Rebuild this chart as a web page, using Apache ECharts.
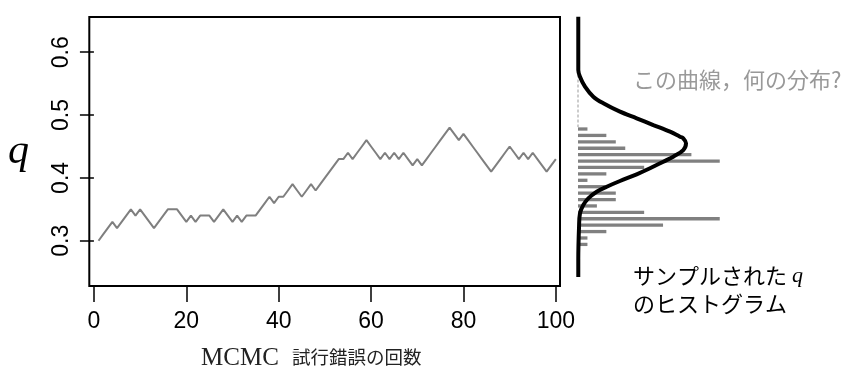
<!DOCTYPE html>
<html>
<head>
<meta charset="utf-8">
<script src="https://cdn.jsdelivr.net/npm/echarts@6/dist/echarts.min.js"></script>
<style>html,body{margin:0;padding:0;background:#fff}#c{width:851px;height:371px}</style>
</head>
<body>
<div id="c"></div>
<script>
// MCMC trace: q value at each iteration 1..100
const qSamples = [
  0.30,0.31,0.32,0.33,0.32,0.33,0.34,0.35,0.34,0.35,
  0.34,0.33,0.32,0.33,0.34,0.35,0.35,0.35,0.34,0.33,
  0.34,0.33,0.34,0.34,0.34,0.33,0.34,0.35,0.34,0.33,
  0.34,0.33,0.34,0.34,0.34,0.35,0.36,0.37,0.36,0.37,
  0.37,0.38,0.39,0.38,0.37,0.38,0.39,0.38,0.39,0.40,
  0.41,0.42,0.43,0.43,0.44,0.43,0.44,0.45,0.46,0.45,
  0.44,0.43,0.44,0.43,0.44,0.43,0.44,0.43,0.42,0.43,
  0.42,0.43,0.44,0.45,0.46,0.47,0.48,0.47,0.46,0.47,
  0.46,0.45,0.44,0.43,0.42,0.41,0.42,0.43,0.44,0.45,
  0.44,0.43,0.44,0.43,0.44,0.43,0.42,0.41,0.42,0.43
];
const xTicks = [0, 20, 40, 60, 80, 100];
const yTicks = [0.3, 0.4, 0.5, 0.6];

// histogram of sampled q (bin centre, count)
const histBins   = [0.30,0.31,0.32,0.33,0.34,0.35,0.36,0.37,0.38,0.39,0.40,0.41,0.42,0.43,0.44,0.45,0.46,0.47,0.48];
const histCounts = [1,   1,   3,   9,   15,  7,   2,   4,   4,   3,   1,   3,   7,   15,  12,  5,   4,   3,   1];

// curve (q, density in histogram-count units)
const curveQ       = [0.655,0.572,0.5616,0.546,0.5304,0.5201,0.507,0.4967,0.4862,0.4758,0.468,0.4655,0.4577,0.4472,0.4368,0.429,0.4187,0.4093,0.3989,0.39,0.3822,0.3719,0.3614,0.3485,0.3276,0.2767,0.2491];
const curveDensity = [0.03, 0.03, 0.21,  0.74, 1.62,  2.68,  4.44, 6.21,  7.97,  9.74,  10.79,11.14, 11.43, 11.14, 10.08, 9.03, 7.62,  6.21,  4.44,  3.04,1.98,  1.09,  0.56,  0.21,  0.11,  0.03,  0.03];

// dashed leader (q range at density 0)
const leaderQ = [0.565, 0.483];

const lineData = qSamples.map((q, i) => [i + 1, q]);
const histData = histBins.map((q, i) => [histCounts[i], q]);
const curveData = curveQ.map((q, i) => [curveDensity[i], q]);
const leaderData = leaderQ.map(q => [0, q]);

const chart = echarts.init(document.getElementById('c'), null, {renderer: 'canvas'});
const tickFont = 'Liberation Sans';
chart.setOption({
  animation: false,
  backgroundColor: '#fff',
  grid: [
    {left: 89.3, top: 17, width: 470.7, height: 269, show: true, borderColor: '#000', borderWidth: 2, backgroundColor: 'transparent'},
    {left: 578, top: 13.6, width: 236.25, height: 282.1, show: false}
  ],
  xAxis: [
    {type: 'value', gridIndex: 0, min: -1, max: 100.9,
      axisLine: {show: false},
      splitLine: {show: false},
      axisTick: {show: true, length: 16, customValues: xTicks, lineStyle: {color: '#000', width: 1.5}},
      axisLabel: {customValues: xTicks, fontSize: 23, color: '#000', fontFamily: tickFont, margin: 24}
    },
    {type: 'value', gridIndex: 1, min: 0, max: 25, show: false}
  ],
  yAxis: [
    {type: 'value', gridIndex: 0, min: 0.228, max: 0.656,
      axisLine: {show: false},
      splitLine: {show: false},
      axisTick: {show: true, length: 14, customValues: yTicks, lineStyle: {color: '#000', width: 1.5}},
      axisLabel: {customValues: yTicks, rotate: 90, fontSize: 23, color: '#000', fontFamily: tickFont, margin: 16,
        formatter: v => v.toFixed(1)}
    },
    {type: 'value', gridIndex: 1, min: 0.22, max: 0.66, show: false}
  ],
  series: [
    {type: 'line', xAxisIndex: 0, yAxisIndex: 0, data: lineData, showSymbol: false,
      lineStyle: {color: '#7f7f7f', width: 2}, silent: true},
    {type: 'custom', xAxisIndex: 1, yAxisIndex: 1, data: histData, silent: true,
      renderItem: function (params, api) {
        const c = api.value(0), q = api.value(1);
        const p0 = api.coord([0, q]);
        const p1 = api.coord([c, q]);
        return {type: 'rect', shape: {x: p0[0], y: p0[1] - 1.65, width: p1[0] - p0[0], height: 3.3},
          style: {fill: '#808080'}};
      }
    },
    {type: 'line', xAxisIndex: 1, yAxisIndex: 1, data: leaderData, showSymbol: false, silent: true,
      lineStyle: {color: '#999', width: 1, type: [3, 2]}},
    {type: 'line', xAxisIndex: 1, yAxisIndex: 1, data: curveData, showSymbol: false, silent: true,
      smooth: 0.35, lineStyle: {color: '#000', width: 4}}
  ],
  graphic: [
    {type: 'text', left: 8, top: 131, style: {text: 'q', font: 'italic 42px "Liberation Serif"', fill: '#000'}},
    {type: 'text', x: 201, y: 358, style: {text: 'MCMC', font: '25px "Liberation Serif"', fill: '#222', verticalAlign: 'middle'}},
    {type: 'text', x: 292, y: 357, style: {text: '試行錯誤の回数', font: '18.5px "Noto Sans CJK JP"', fill: '#222', verticalAlign: 'middle'}},
    {type: 'text', x: 633, y: 80, style: {text: 'この曲線，何の分布?', font: '22px "Noto Sans CJK JP"', fill: '#999', verticalAlign: 'middle'}},
    {type: 'text', x: 633, y: 276, style: {
      text: '{b|サンプルされた }{q|q}', verticalAlign: 'middle',
      rich: {b: {fontFamily: 'Noto Sans CJK JP', fontSize: 22, color: '#000'},
             q: {fontFamily: 'Liberation Serif', fontStyle: 'italic', fontSize: 22, color: '#000'}}
    }},
    {type: 'text', x: 633, y: 304, style: {text: 'のヒストグラム', font: '22px "Noto Sans CJK JP"', fill: '#000', verticalAlign: 'middle'}}
  ]
});
</script>
</body>
</html>
